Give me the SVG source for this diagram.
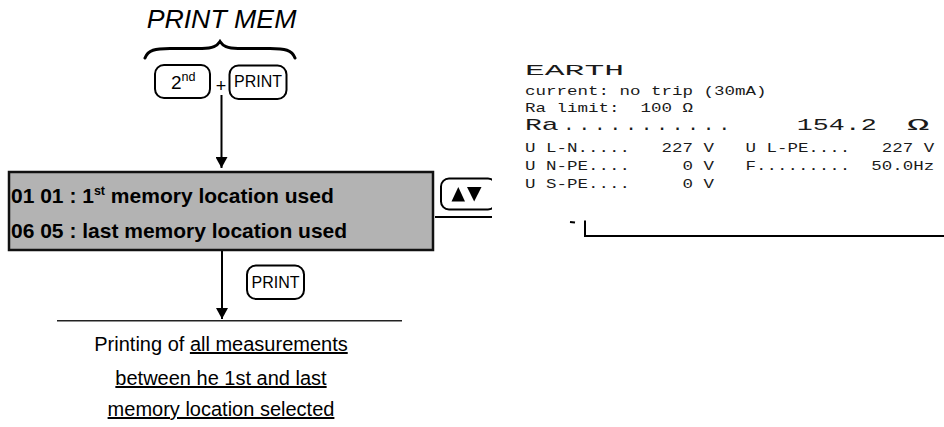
<svg xmlns="http://www.w3.org/2000/svg" width="944" height="427" viewBox="0 0 944 427">
<defs>
<style>
.sans{font-family:"Liberation Sans",Arial,sans-serif;fill:#000}
.btn{fill:#fff;stroke:#000;stroke-width:2}
.conn{fill:none;stroke:#000;stroke-width:2}
.mono{font-family:"Liberation Mono","DejaVu Sans Mono",monospace;fill:#1a1a1a;white-space:pre}
.sm{font-size:13px}
.big{font-size:17px}
.ul{text-decoration:underline}
</style>
<marker id="arr" viewBox="0 0 11 12" refX="11" refY="6" markerWidth="11" markerHeight="12" markerUnits="userSpaceOnUse" orient="auto">
<path d="M0,0 L11,6 L0,12 Z" fill="#000"/>
</marker>
</defs>
<rect width="944" height="427" fill="#fff"/>

<g id="title">
<text class="sans" x="221.5" y="28" font-size="26.7" font-style="italic" text-anchor="middle">PRINT MEM</text>
<path d="M145,58 C148,50 155,48.5 170,48.5 L202,48.5 C213,48.5 217,46 220,41.5 C223,46 227,48.5 238,48.5 L270,48.5 C285,48.5 292,50 295,58" fill="none" stroke="#000" stroke-width="3" stroke-linecap="round"/>
</g>

<g id="btn-2nd">
<rect class="btn" x="155" y="65" width="55" height="33" rx="9"/>
<text class="sans" x="171" y="88.5" font-size="19">2<tspan font-size="12.6" dy="-8">nd</tspan></text>
</g>

<g id="plus">
<text class="sans" x="221" y="92" font-size="18" text-anchor="middle">+</text>
</g>

<g id="btn-print1">
<rect class="btn" x="229.5" y="65.5" width="57" height="33.5" rx="9"/>
<text class="sans" x="258" y="87" font-size="16" text-anchor="middle">PRINT</text>
</g>

<g id="memory-box">
<rect x="9" y="172" width="424" height="78" fill="#b3b3b3" stroke="#111" stroke-width="2.5"/>
<text class="sans" x="11" y="203" font-size="21" font-weight="bold">01 01 : 1<tspan font-size="12.5" dy="-8">st</tspan><tspan dy="8"> memory location used</tspan></text>
<text class="sans" x="11" y="238" font-size="21" font-weight="bold">06 05 : last memory location used</text>
</g>

<g id="btn-updown">
<rect class="btn" x="441" y="178.5" width="55" height="31" rx="8"/>
<polygon points="451.5,201.5 465,201.5 458.3,187" fill="#000"/>
<polygon points="467,187 481.5,187 474.2,201.5" fill="#000"/>
</g>

<g id="connectors">
<path class="conn" d="M221.5,95 V168" marker-end="url(#arr)"/>
<path class="conn" d="M222,251 V319" marker-end="url(#arr)"/>
<path class="conn" d="M435,217 H496"/>
<path class="conn" d="M585,220.5 V236 H944"/>
<path d="M570,222 L575,222.5" stroke="#000" stroke-width="2.2"/>
<path d="M57,320.7 H402" stroke="#222" stroke-width="1.5"/>
</g>

<g id="printout">
<rect x="492" y="40" width="452" height="180" fill="#fff"/>
<text class="mono" font-size="15" transform="translate(525 75) scale(2.2 1)">EARTH</text>
<text class="mono sm" transform="translate(525 95) scale(1.346 1)" xml:space="preserve">current: no trip (30mA)</text>
<text class="mono sm" transform="translate(525 111.7) scale(1.346 1)" xml:space="preserve">Ra limit:  100 Ω</text>
<text class="mono big" transform="translate(525 130) scale(1.65 1)">Ra</text>
<text class="mono" x="564" y="130" font-size="16" font-weight="bold" textLength="165" lengthAdjust="spacing">...........</text>
<text class="mono big" transform="translate(796.7 130) scale(1.57 1)">154.2</text>
<text class="mono big" transform="translate(907 130) scale(2.2 1)">Ω</text>
<text class="mono sm" transform="translate(525 151.7) scale(1.346 1)" xml:space="preserve">U L-N.....   227 V   U L-PE....   227 V</text>
<text class="mono sm" transform="translate(525 170) scale(1.346 1)" xml:space="preserve">U N-PE....     0 V   F.........  50.0Hz</text>
<text class="mono sm" transform="translate(525 188.3) scale(1.346 1)" xml:space="preserve">U S-PE....     0 V</text>
</g>

<g id="btn-print2">
<rect class="btn" x="247" y="265.5" width="57" height="33.5" rx="9"/>
<text class="sans" x="275.5" y="287.5" font-size="16" text-anchor="middle">PRINT</text>
</g>

<g id="result-text">
<text class="sans" x="221" y="351" font-size="20" text-anchor="middle">Printing of <tspan class="ul">all measurements</tspan></text>
<text class="sans ul" x="221" y="385" font-size="20" text-anchor="middle">between he 1st and last</text>
<text class="sans ul" x="221" y="416" font-size="20" text-anchor="middle">memory location selected</text>
</g>
</svg>
